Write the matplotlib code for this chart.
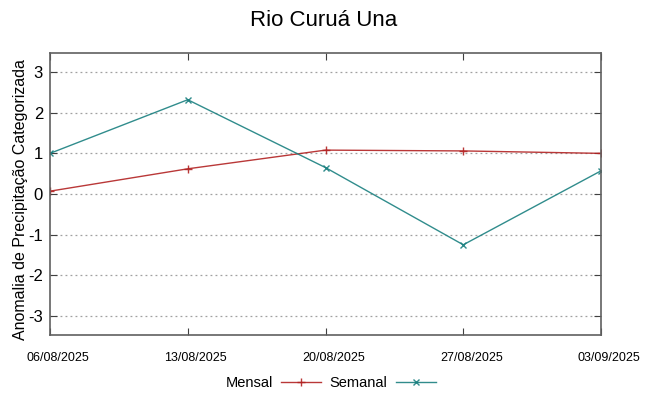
import numpy as np
import matplotlib
matplotlib.use('Agg')
import matplotlib.pyplot as plt
import matplotlib.transforms as mtransforms

plt.rcParams['font.family'] = ['Liberation Sans', 'DejaVu Sans']

# data
datas = ['06/08/2025', '13/08/2025', '20/08/2025', '27/08/2025', '03/09/2025']
mensal = [0.07, 0.62, 1.08, 1.06, 1.00]
semanal = [1.00, 2.32, 0.65, -1.25, 0.57]
yticks = [-3, -2, -1, 0, 1, 2, 3]

x = np.arange(len(datas))

fig = plt.figure(figsize=(6.48, 3.96), dpi=100)
ax = fig.add_axes([50/648, 61/396, 551/648, 282/396])

ax.plot(x, mensal, color='#b22222', lw=1, marker='+', ms=6, mew=1, label='Mensal', alpha=0.9)
ax.plot(x, semanal, color='#1a8080', lw=1, marker='x', ms=5, mew=1, label='Semanal', alpha=0.9)

ax.set_xlim(x[0], x[-1])
ax.set_ylim(-3.47, 3.47)
ax.set_xticks(x)
ax.set_xticklabels(datas, fontsize=9)
ax.set_yticks(yticks)
ax.set_yticklabels([str(v) for v in yticks], fontsize=12)
ax.tick_params(direction='in', top=True, right=True, length=5, color='#404040')
ax.tick_params(axis='x', pad=12)
ax.tick_params(axis='y', pad=5)
# shift x labels a bit to the right like the original
off = mtransforms.ScaledTranslation(8/100, 0, fig.dpi_scale_trans)
for lab in ax.get_xticklabels():
    lab.set_transform(lab.get_transform() + off)
ax.yaxis.grid(True, linestyle=(0, (1.5, 2.5)), color='#a0a0a0', lw=0.9)
for s in ax.spines.values():
    s.set_color('#606060')
    s.set_linewidth(1.2)

ax.set_ylabel('Anomalia de Precipitação Categorizada', fontsize=11.5)
ax.yaxis.set_label_coords(-0.04, 0.48)
fig.suptitle('Rio Curuá Una', fontsize=16, y=0.975)

fig.legend(loc='lower center', bbox_to_anchor=(0.51, -0.018), ncol=2, frameon=False,
           markerfirst=False, fontsize=10.5, handlelength=2.7, columnspacing=0.6,
           handletextpad=0.6)

fig.savefig('out.png', dpi=100)
